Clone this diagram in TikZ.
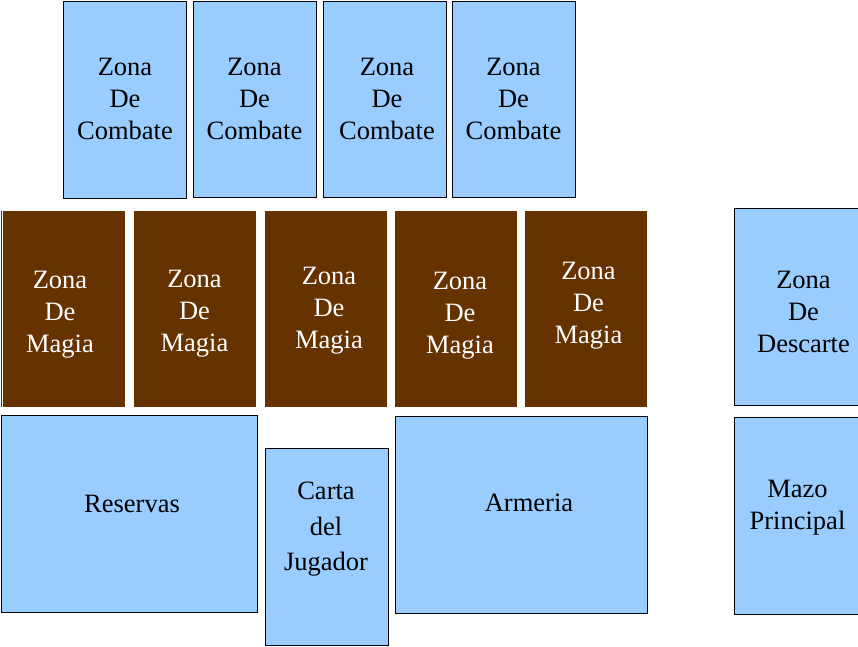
\documentclass[tikz,border=0pt]{standalone}
\usepackage{fontspec}
\setmainfont{Liberation Serif}
\definecolor{cardblue}{HTML}{99CCFF}
\definecolor{cardbrown}{HTML}{663300}
\begin{document}
\begin{tikzpicture}[x=1pt,y=-1pt,
  bluebox/.style={draw=black, line width=1pt, fill=cardblue, inner sep=0pt, outer sep=0pt},
  brownbox/.style={fill=cardbrown, inner sep=0pt, outer sep=0pt},
  lbl/.style={align=center, inner sep=0pt, font=\fontsize{26.5}{32}\selectfont},
  whitelbl/.style={lbl, text=white},
]
\useasboundingbox (0,0) rectangle (858,646);
% Zona de combate
\node[bluebox, minimum width=123pt, minimum height=197pt] (c1) at (124.5,99.5) {};
\node[bluebox, minimum width=123pt, minimum height=196.5pt] (c2) at (255,99.25) {};
\node[bluebox, minimum width=123pt, minimum height=196.5pt] (c3) at (385,99.25) {};
\node[bluebox, minimum width=123pt, minimum height=196.5pt] (c4) at (513.5,99.25) {};
% Zona de magia
\draw[line width=1pt, black!80] (1,211) -- (1,406.5);
\node[brownbox, minimum width=122pt, minimum height=195.5pt] (m1) at (64,308.75) {};
\node[brownbox, minimum width=122pt, minimum height=195.5pt] (m2) at (195,308.75) {};
\node[brownbox, minimum width=122pt, minimum height=195.5pt] (m3) at (326,308.75) {};
\node[brownbox, minimum width=122pt, minimum height=195.5pt] (m4) at (456,308.75) {};
\node[brownbox, minimum width=122pt, minimum height=195.5pt] (m5) at (586,308.75) {};
% Otras zonas
\node[bluebox, minimum width=256pt, minimum height=196.5pt] (res) at (129,513.75) {};
\node[bluebox, minimum width=123.5pt, minimum height=197.5pt] (carta) at (326.75,546.75) {};
\node[bluebox, minimum width=252pt, minimum height=197pt] (arm) at (521.5,514.5) {};
\node[bluebox, minimum width=124.5pt, minimum height=197pt] (desc) at (796.25,306.5) {};
\node[bluebox, minimum width=124.5pt, minimum height=197pt] (mazo) at (796.25,515.5) {};
% Textos
\node[lbl] (tc1) at (125,99) {Zona\\De\\Combate};
\node[lbl] (tc2) at (254.5,98.5) {Zona\\De\\Combate};
\node[lbl] (tc3) at (387,99) {Zona\\De\\Combate};
\node[lbl] (tc4) at (513.5,99) {Zona\\De\\Combate};
\node[whitelbl] (tm1) at (60,315) {Zona\\De\\Magia};
\node[whitelbl] (tm2) at (194.5,313.5) {Zona\\De\\Magia};
\node[whitelbl] (tm3) at (329,311) {Zona\\De\\Magia};
\node[whitelbl] (tm4) at (460,316) {Zona\\De\\Magia};
\node[whitelbl] (tm5) at (588.5,306) {Zona\\De\\Magia};
\node[lbl] (tres) at (132,504) {Reservas};
\node[lbl, font=\fontsize{26.5}{35.5}\selectfont] (tcarta) at (326,529.5) {Carta\\del\\Jugador};
\node[lbl] (tarm) at (529,503) {Armeria};
\node[lbl] (tdesc) at (803.5,311.5) {Zona\\De\\Descarte};
\node[lbl] (tmazo) at (797.5,508) {Mazo\\Principal};
\end{tikzpicture}
\end{document}
